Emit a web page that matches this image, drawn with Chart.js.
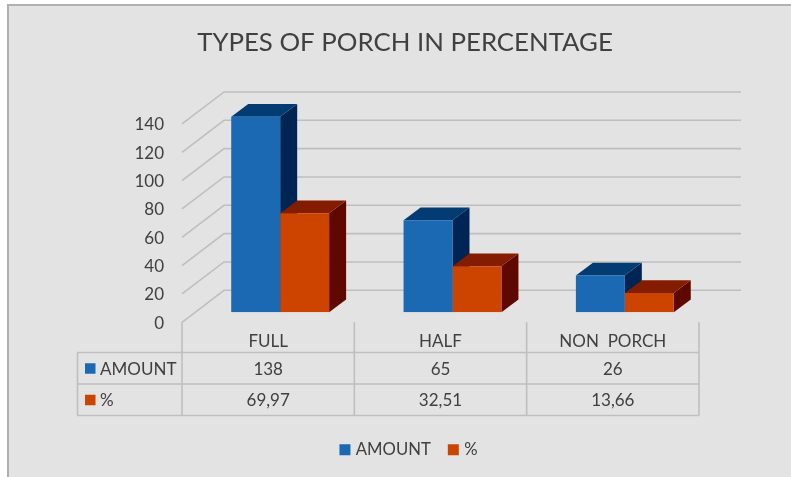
<!DOCTYPE html>
<html>
<head>
<meta charset="utf-8">
<style>html,body{margin:0;padding:0;background:#fff}canvas{display:block;filter:blur(0.45px)}</style>
<script src="https://cdn.jsdelivr.net/npm/chart.js@4"></script>
</head>
<body>
<div style="width:791px;height:477px;position:relative;overflow:hidden"><canvas id="c" width="791" height="477"></canvas></div>
<script>
const categories = ["FULL", "HALF", "NON  PORCH"];
const amountValues = [138, 65, 26];
const percentValues = [69.97, 32.51, 13.66];
const amountLabels = ["138", "65", "26"];
const percentLabels = ["69,97", "32,51", "13,66"];
const seriesNames = ["AMOUNT", "%"];
const titleText = "TYPES OF PORCH IN PERCENTAGE";

const FONT = "Lato, Carlito, sans-serif";
const INK = "#404040";
const GRID = "#bfbfbf";
const BG = "#e3e3e3";
const FRONT = ["#1b69b3", "#cc4400"];
const TOP = ["#023c72", "#841c00"];
const SIDE = ["#002453", "#5e0800"];

const depth = {x: 17, y: 12.7};
const wallBack = {x: 30, y: 22};
const wallFront = {x: -12, y: 10};

const porch3D = {
  id: "porch3D",
  afterLayout(chart) {
    chart.legend.left += 5;
    chart.legend.right += 5;
  },
  beforeDraw(chart) {
    const c = chart.ctx;
    c.save();
    c.fillStyle = "#ffffff";
    c.fillRect(0, 0, chart.width, chart.height);
    c.fillStyle = "#b0b0b0";
    c.fillRect(7, 4, chart.width - 7, chart.height - 4);
    c.fillStyle = BG;
    c.fillRect(9, 6, chart.width - 9, chart.height - 6);
    c.restore();
  },
  beforeDatasetsDraw(chart) {
    const c = chart.ctx, ys = chart.scales.y, area = chart.chartArea;
    const fx = area.left + wallFront.x, bx = area.left + wallBack.x, rx = area.right + wallBack.x;
    c.save();
    c.strokeStyle = GRID;
    c.lineWidth = 1.6;
    ys.ticks.forEach(t => {
      const y = ys.getPixelForValue(t.value);
      c.beginPath();
      c.moveTo(fx, y + wallFront.y);
      c.lineTo(bx, y - wallBack.y);
      c.lineTo(rx, y - wallBack.y);
      c.stroke();
    });
    chart.data.datasets.forEach((ds, d) => {
      chart.getDatasetMeta(d).data.forEach(bar => {
        const l = bar.x - bar.width / 2, r = bar.x + bar.width / 2, t = bar.y, b = bar.base;
        c.fillStyle = SIDE[d];
        c.beginPath();
        c.moveTo(r, t); c.lineTo(r + depth.x, t - depth.y); c.lineTo(r + depth.x, b - depth.y); c.lineTo(r, b);
        c.closePath(); c.fill();
        c.fillStyle = TOP[d];
        c.beginPath();
        c.moveTo(l, t); c.lineTo(r, t); c.lineTo(r + depth.x, t - depth.y); c.lineTo(l + depth.x, t - depth.y);
        c.closePath(); c.fill();
      });
    });
    c.restore();
  },
  afterDraw(chart) {
    const c = chart.ctx, area = chart.chartArea;
    const colLeft = i => area.left + wallFront.x + i * (area.right - area.left) / categories.length;
    const axisY = area.bottom + wallFront.y;
    const rows = [352.5, 384, 415.5];
    const keyL = 77.5;
    c.save();
    c.strokeStyle = GRID;
    c.lineWidth = 1.6;
    c.beginPath();
    for (let i = 0; i <= categories.length; i++) {
      c.moveTo(colLeft(i), axisY);
      c.lineTo(colLeft(i), rows[2]);
    }
    rows.forEach(y => { c.moveTo(keyL, y); c.lineTo(colLeft(categories.length), y); });
    c.moveTo(keyL, rows[0]); c.lineTo(keyL, rows[2]);
    c.stroke();
    c.font = "17px " + FONT;
    c.textBaseline = "middle";
    [amountLabels, percentLabels].forEach((vals, r) => {
      const my = (rows[r] + rows[r + 1]) / 2;
      c.fillStyle = FRONT[r];
      c.fillRect(85, my - 5, 10.5, 10.5);
      c.fillStyle = INK;
      c.textAlign = "left";
      c.fillText(seriesNames[r], 100, my + 1);
      c.textAlign = "center";
      vals.forEach((v, i) => c.fillText(v, (colLeft(i) + colLeft(i + 1)) / 2, my + 1));
    });
    c.restore();
  }
};

new Chart(document.getElementById("c"), {
  type: "bar",
  data: {
    labels: categories,
    datasets: [
      {label: seriesNames[0], data: amountValues, backgroundColor: FRONT[0], borderWidth: 0},
      {label: seriesNames[1], data: percentValues, backgroundColor: FRONT[1], borderWidth: 0}
    ]
  },
  plugins: [porch3D],
  options: {
    responsive: false,
    animation: false,
    layout: {padding: {left: 19, right: 0, top: 0, bottom: 9}},
    datasets: {bar: {categoryPercentage: 0.568, barPercentage: 1}},
    plugins: {
      tooltip: {enabled: false},
      title: {display: true, text: titleText, color: INK,
        font: {family: FONT, size: 25.8, weight: "normal"}, padding: {top: 27, bottom: 56}},
      legend: {position: "bottom",
        labels: {color: INK, font: {family: FONT, size: 16.7}, boxWidth: 5, boxHeight: 5, padding: 20,
          generateLabels(chart) {
            return chart.data.datasets.map((ds, i) => ({
              text: ds.label, fontColor: INK, fillStyle: FRONT[i], strokeStyle: FRONT[i],
              lineWidth: 6, hidden: false, datasetIndex: i
            }));
          }}}
    },
    scales: {
      x: {
        grid: {display: false}, border: {display: false},
        ticks: {color: INK, font: {family: FONT, size: 17}, labelOffset: -12, padding: 11, maxRotation: 0},
        afterFit(s) { s.height = 109; }
      },
      y: {
        min: 0, max: 140,
        grid: {display: false, drawTicks: false}, border: {display: false},
        ticks: {stepSize: 20, color: INK, font: {family: FONT, size: 17}, labelOffset: 11, padding: 30},
        afterFit(s) { s.width = 175; }
      },
      rightGap: {
        position: "right", display: true,
        grid: {display: false, drawTicks: false}, border: {display: false},
        ticks: {display: false},
        afterFit(s) { s.width = 80; }
      }
    }
  }
});
</script>
</body>
</html>
